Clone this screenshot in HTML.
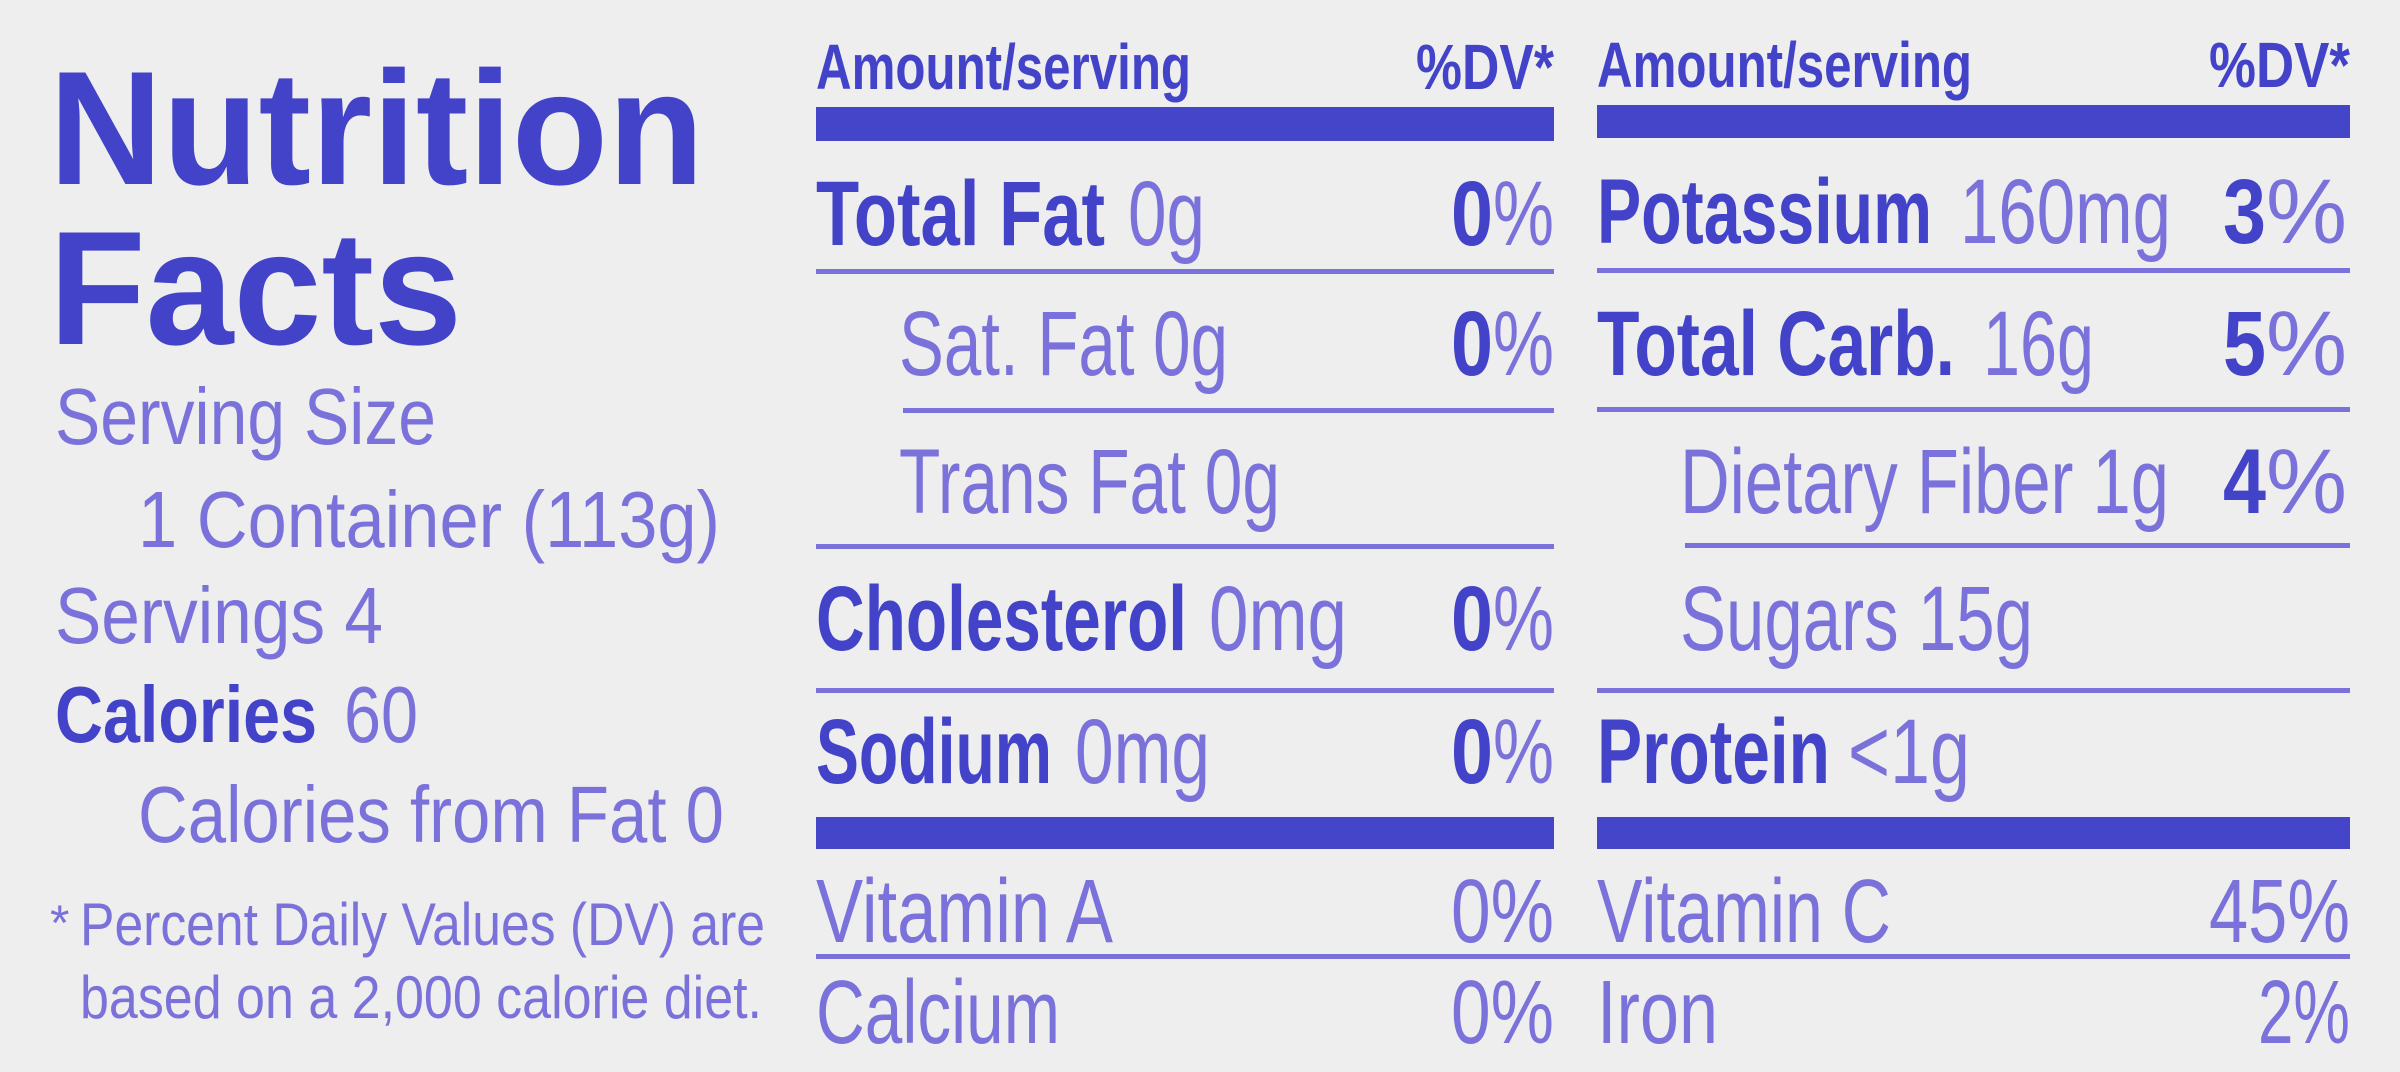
<!DOCTYPE html>
<html><head><meta charset="utf-8"><style>
html,body{margin:0;padding:0;background:#eeeeee;}
svg{display:block}
text{font-family:"Liberation Sans",sans-serif;}
.b{font-weight:bold;fill:#4343c9;}
.l{fill:#7a72da;}
</style></head><body>
<svg width="2400" height="1072" viewBox="0 0 2400 1072" xmlns="http://www.w3.org/2000/svg">
<rect width="2400" height="1072" fill="#eeeeee"/>
<g lengthAdjust="spacingAndGlyphs">
<!-- left -->
<text class="b" x="49" y="184" font-size="162" textLength="655" lengthAdjust="spacingAndGlyphs">Nutrition</text>
<text class="b" x="49" y="344" font-size="162" textLength="413" lengthAdjust="spacingAndGlyphs">Facts</text>
<text class="l" x="55" y="444" font-size="80" textLength="381" lengthAdjust="spacingAndGlyphs">Serving Size</text>
<text class="l" x="138" y="547" font-size="80" textLength="582" lengthAdjust="spacingAndGlyphs">1 Container (113g)</text>
<text class="l" x="55" y="643" font-size="80" textLength="328" lengthAdjust="spacingAndGlyphs">Servings 4</text>
<text class="b" x="55" y="742" font-size="80" textLength="262" lengthAdjust="spacingAndGlyphs">Calories</text>
<text class="l" x="344" y="742" font-size="80" textLength="74" lengthAdjust="spacingAndGlyphs">60</text>
<text class="l" x="138" y="842" font-size="80" textLength="586" lengthAdjust="spacingAndGlyphs">Calories from Fat 0</text>
<text class="l" x="50" y="940" font-size="50">*</text>
<text class="l" x="80" y="945" font-size="60" textLength="685" lengthAdjust="spacingAndGlyphs">Percent Daily Values (DV) are</text>
<text class="l" x="80" y="1018" font-size="60" textLength="682" lengthAdjust="spacingAndGlyphs">based on a 2,000 calorie diet.</text>

<!-- middle column -->
<text class="b" x="816" y="89" font-size="64" textLength="375" lengthAdjust="spacingAndGlyphs">Amount/serving</text>
<text class="b" x="1416" y="89" font-size="64" textLength="138" lengthAdjust="spacingAndGlyphs">%DV*</text>
<rect x="816" y="107" width="738" height="34" fill="#4545c9"/>

<text class="b" x="816" y="245" font-size="92" textLength="289" lengthAdjust="spacingAndGlyphs">Total Fat</text>
<text class="l" x="1128" y="245" font-size="92" textLength="77" lengthAdjust="spacingAndGlyphs">0g</text>
<text class="b" x="1451" y="245" font-size="92" textLength="42" lengthAdjust="spacingAndGlyphs">0</text>
<text class="l" x="1493" y="245" font-size="92" textLength="61" lengthAdjust="spacingAndGlyphs">%</text>
<rect x="816" y="269" width="738" height="5" fill="#7a72da"/>

<text class="l" x="899" y="375" font-size="92" textLength="329" lengthAdjust="spacingAndGlyphs">Sat. Fat 0g</text>
<text class="b" x="1451" y="375" font-size="92" textLength="42" lengthAdjust="spacingAndGlyphs">0</text>
<text class="l" x="1493" y="375" font-size="92" textLength="61" lengthAdjust="spacingAndGlyphs">%</text>
<rect x="903" y="408" width="651" height="5" fill="#7a72da"/>

<text class="l" x="899" y="513" font-size="92" textLength="381" lengthAdjust="spacingAndGlyphs">Trans Fat 0g</text>
<rect x="816" y="544" width="738" height="5" fill="#7a72da"/>

<text class="b" x="816" y="650" font-size="92" textLength="371" lengthAdjust="spacingAndGlyphs">Cholesterol</text>
<text class="l" x="1209" y="650" font-size="92" textLength="138" lengthAdjust="spacingAndGlyphs">0mg</text>
<text class="b" x="1451" y="650" font-size="92" textLength="42" lengthAdjust="spacingAndGlyphs">0</text>
<text class="l" x="1493" y="650" font-size="92" textLength="61" lengthAdjust="spacingAndGlyphs">%</text>
<rect x="816" y="688" width="738" height="5" fill="#7a72da"/>

<text class="b" x="816" y="783" font-size="92" textLength="236" lengthAdjust="spacingAndGlyphs">Sodium</text>
<text class="l" x="1075" y="783" font-size="92" textLength="135" lengthAdjust="spacingAndGlyphs">0mg</text>
<text class="b" x="1451" y="783" font-size="92" textLength="42" lengthAdjust="spacingAndGlyphs">0</text>
<text class="l" x="1493" y="783" font-size="92" textLength="61" lengthAdjust="spacingAndGlyphs">%</text>
<rect x="816" y="817" width="738" height="32" fill="#4545c9"/>

<text class="l" x="816" y="942" font-size="90" textLength="297" lengthAdjust="spacingAndGlyphs">Vitamin A</text>
<text class="l" x="1451" y="942" font-size="90" textLength="103" lengthAdjust="spacingAndGlyphs">0%</text>
<rect x="816" y="954" width="1534" height="5" fill="#7a72da"/>
<text class="l" x="816" y="1043" font-size="90" textLength="244" lengthAdjust="spacingAndGlyphs">Calcium</text>
<text class="l" x="1451" y="1043" font-size="90" textLength="103" lengthAdjust="spacingAndGlyphs">0%</text>

<!-- right column -->
<text class="b" x="1597" y="87" font-size="64" textLength="375" lengthAdjust="spacingAndGlyphs">Amount/serving</text>
<text class="b" x="2209" y="87" font-size="64" textLength="141" lengthAdjust="spacingAndGlyphs">%DV*</text>
<rect x="1597" y="105" width="753" height="33" fill="#4545c9"/>

<text class="b" x="1597" y="243" font-size="92" textLength="335" lengthAdjust="spacingAndGlyphs">Potassium</text>
<text class="l" x="1960" y="243" font-size="92" textLength="211" lengthAdjust="spacingAndGlyphs">160mg</text>
<text class="b" x="2223" y="243" font-size="92" textLength="43" lengthAdjust="spacingAndGlyphs">3</text>
<text class="l" x="2266" y="243" font-size="92" textLength="81" lengthAdjust="spacingAndGlyphs">%</text>
<rect x="1597" y="268" width="753" height="5" fill="#7a72da"/>

<text class="b" x="1597" y="375" font-size="92" textLength="358" lengthAdjust="spacingAndGlyphs">Total Carb.</text>
<text class="l" x="1983" y="375" font-size="92" textLength="111" lengthAdjust="spacingAndGlyphs">16g</text>
<text class="b" x="2223" y="375" font-size="92" textLength="43" lengthAdjust="spacingAndGlyphs">5</text>
<text class="l" x="2266" y="375" font-size="92" textLength="81" lengthAdjust="spacingAndGlyphs">%</text>
<rect x="1597" y="407" width="753" height="5" fill="#7a72da"/>

<text class="l" x="1680" y="513" font-size="92" textLength="489" lengthAdjust="spacingAndGlyphs">Dietary Fiber 1g</text>
<text class="b" x="2223" y="513" font-size="92" textLength="43" lengthAdjust="spacingAndGlyphs">4</text>
<text class="l" x="2266" y="513" font-size="92" textLength="81" lengthAdjust="spacingAndGlyphs">%</text>
<rect x="1685" y="543" width="665" height="5" fill="#7a72da"/>

<text class="l" x="1680" y="650" font-size="92" textLength="353" lengthAdjust="spacingAndGlyphs">Sugars 15g</text>
<rect x="1597" y="688" width="753" height="5" fill="#7a72da"/>

<text class="b" x="1597" y="783" font-size="92" textLength="233" lengthAdjust="spacingAndGlyphs">Protein</text>
<text class="l" x="1848" y="783" font-size="92" textLength="122" lengthAdjust="spacingAndGlyphs">&lt;1g</text>
<rect x="1597" y="817" width="753" height="32" fill="#4545c9"/>

<text class="l" x="1597" y="942" font-size="90" textLength="294" lengthAdjust="spacingAndGlyphs">Vitamin C</text>
<text class="l" x="2209" y="942" font-size="90" textLength="141" lengthAdjust="spacingAndGlyphs">45%</text>
<text class="l" x="1597" y="1043" font-size="90" textLength="121" lengthAdjust="spacingAndGlyphs">Iron</text>
<text class="l" x="2258" y="1043" font-size="90" textLength="92" lengthAdjust="spacingAndGlyphs">2%</text>
</g>
</svg>
</body></html>
